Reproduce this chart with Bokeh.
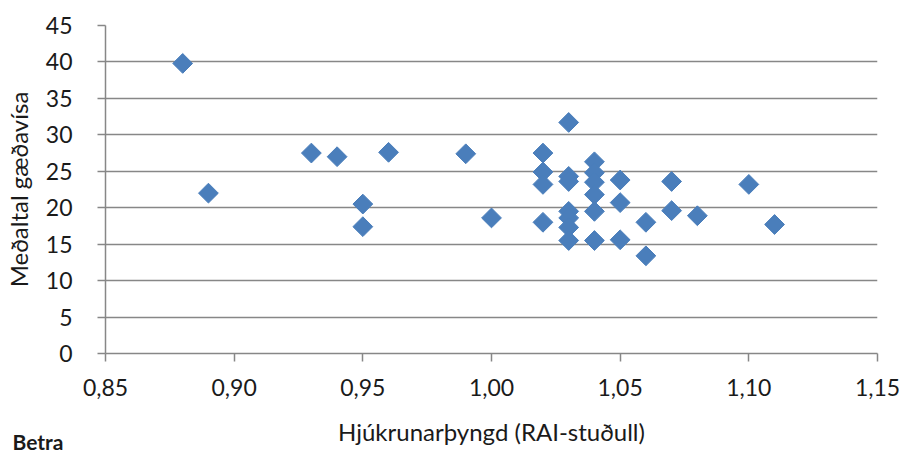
from bokeh.plotting import figure
from bokeh.models import Range1d, FixedTicker, Label
from bokeh.embed import file_html
from bokeh.resources import INLINE

# data
rai = [0.88, 0.89, 0.93, 0.94, 0.95, 0.95, 0.96, 0.99, 1.00,
       1.02, 1.02, 1.02, 1.02,
       1.03, 1.03, 1.03, 1.03, 1.03, 1.03, 1.03,
       1.04, 1.04, 1.04, 1.04, 1.04, 1.04,
       1.05, 1.05, 1.05, 1.06, 1.06, 1.07, 1.07, 1.08, 1.10, 1.11]
quality = [39.8, 22.0, 27.5, 27.0, 20.5, 17.4, 27.6, 27.4, 18.6,
           27.5, 24.9, 23.2, 18.0,
           31.7, 24.3, 23.6, 19.5, 18.6, 17.3, 15.5,
           26.3, 24.8, 23.5, 21.8, 19.5, 15.5,
           23.8, 20.7, 15.6, 18.0, 13.4, 23.6, 19.6, 18.9, 23.2, 17.7]

x_ticks = [0.85, 0.90, 0.95, 1.00, 1.05, 1.10, 1.15]
x_tick_labels = ["0,85", "0,90", "0,95", "1,00", "1,05", "1,10", "1,15"]
y_ticks = [0, 5, 10, 15, 20, 25, 30, 35, 40, 45]

x_title = "Hjúkrunarþyngd (RAI-stuðull)"
y_title = "Meðaltal gæðavísa"
note = "Betra"

FONT = "Lato"
GRAY = "#878787"
TXT = "#1a1a1a"

p = figure(width=902, height=452, output_backend="svg", toolbar_location=None,
           x_range=Range1d(0.85, 1.15), y_range=Range1d(0, 45),
           min_border_left=105, min_border_right=25, min_border_top=24,
           min_border_bottom=99)
p.outline_line_color = None
p.background_fill_color = "white"

p.scatter(rai, quality, marker="square", size=14, angle=0.785398,
          fill_color="#4A7EBB", line_color="#4A7EBB", line_width=1)

p.xgrid.visible = False
p.ygrid.ticker = FixedTicker(ticks=y_ticks)
p.ygrid.grid_line_color = GRAY
p.ygrid.grid_line_width = 1.5

for ax in (p.xaxis[0], p.yaxis[0]):
    ax.axis_line_color = GRAY
    ax.axis_line_width = 1.5
    ax.major_tick_line_color = GRAY
    ax.major_tick_line_width = 1.5
    ax.major_tick_out = 8
    ax.major_tick_in = 0
    ax.minor_tick_line_color = None
    ax.major_label_text_font = FONT
    ax.major_label_text_font_size = "23px"
    ax.major_label_text_color = TXT
    ax.axis_label_text_font = FONT
    ax.axis_label_text_font_size = "24px"
    ax.axis_label_text_font_style = "normal"
    ax.axis_label_text_color = TXT

p.xaxis.ticker = FixedTicker(ticks=x_ticks)
p.xaxis.major_label_overrides = {t: l for t, l in zip(x_ticks, x_tick_labels)}
p.xaxis.major_label_standoff = 17
p.xaxis.axis_label = x_title
p.xaxis.axis_label_standoff = 18

p.yaxis.ticker = FixedTicker(ticks=y_ticks)
p.yaxis.major_label_standoff = 25
p.yaxis.axis_label = y_title
p.yaxis.axis_label_standoff = 10

# placed in a side panel so that it is not clipped to the plot frame
p.add_layout(Label(x=-93, y=-416, x_units="screen", y_units="screen", text=note,
                   text_font=FONT, text_font_style="bold",
                   text_baseline="alphabetic",
                   text_font_size="21px", text_color=TXT), "above")

open("out.html", "w").write(file_html(p, INLINE))
